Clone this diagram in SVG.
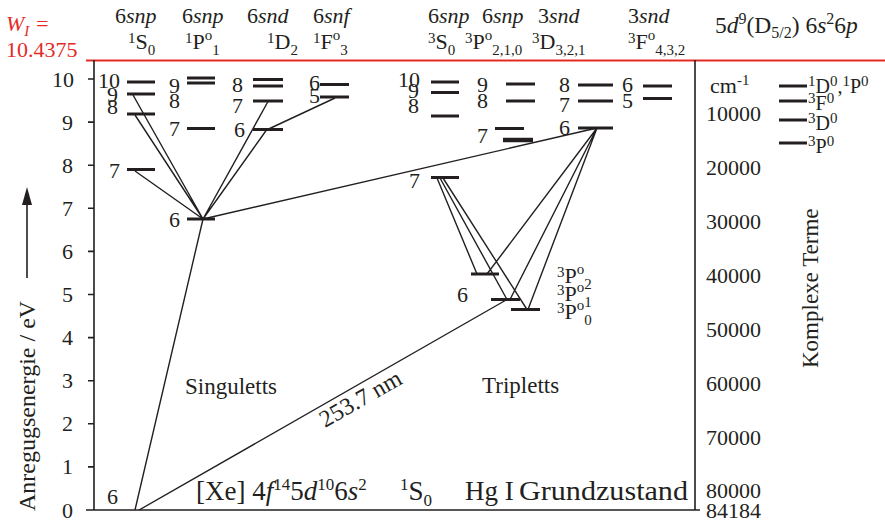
<svg xmlns="http://www.w3.org/2000/svg" width="885" height="522" viewBox="0 0 885 522" font-family="Liberation Serif, Times New Roman, DejaVu Serif, serif">
<style>
.t{font-family:'Liberation Serif','Times New Roman','DejaVu Serif',serif;font-size:22px;fill:#231f20}
.i{font-style:italic}
.s{font-size:15px}
.e{text-anchor:end}
.r{fill:#e32b26}
.lv{stroke:#231f20;stroke-width:3}
.lvb{stroke:#231f20;stroke-width:4.5}
.ln{stroke:#231f20;stroke-width:1.4;fill:none}
.ax{stroke:#231f20;stroke-width:1.6;fill:none}
</style>
<rect width="885" height="522" fill="#fff"/>
<g id="header">
<text class="t r i" x="6" y="31">W<tspan class="s" dy="5">I</tspan><tspan dy="-5"> =</tspan></text>
<text class="t r" x="6" y="57">10.4375</text>
<line x1="86" y1="60.5" x2="885" y2="60.5" stroke="#e32b26" stroke-width="2"/>
<text class="t" x="115" y="23">6<tspan class="i">snp</tspan></text>
<text class="t" x="128" y="49"><tspan class="s" dy="-6">1</tspan><tspan dy="6">S</tspan><tspan class="s" dy="6">0</tspan></text>
<text class="t" x="182" y="23">6<tspan class="i">snp</tspan></text>
<text class="t" x="185" y="49"><tspan class="s" dy="-6">1</tspan><tspan dy="6">P</tspan><tspan class="s" dy="-9">o</tspan><tspan class="s" dy="15">1</tspan></text>
<text class="t" x="247" y="23">6<tspan class="i">snd</tspan></text>
<text class="t" x="267" y="49"><tspan class="s" dy="-6">1</tspan><tspan dy="6">D</tspan><tspan class="s" dy="6">2</tspan></text>
<text class="t" x="313" y="23">6<tspan class="i">snf</tspan></text>
<text class="t" x="313" y="49"><tspan class="s" dy="-6">1</tspan><tspan dy="6">F</tspan><tspan class="s" dy="-9">o</tspan><tspan class="s" dy="15">3</tspan></text>
<text class="t" x="428" y="23">6<tspan class="i">snp</tspan></text>
<text class="t" x="428" y="49"><tspan class="s" dy="-6">3</tspan><tspan dy="6">S</tspan><tspan class="s" dy="6">0</tspan></text>
<text class="t" x="482" y="23">6<tspan class="i">snp</tspan></text>
<text class="t" x="465" y="49"><tspan class="s" dy="-6">3</tspan><tspan dy="6">P</tspan><tspan class="s" dy="-9">o</tspan><tspan class="s" dy="15">2,1,0</tspan></text>
<text class="t" x="538" y="23">3<tspan class="i">snd</tspan></text>
<text class="t" x="532" y="49"><tspan class="s" dy="-6">3</tspan><tspan dy="6">D</tspan><tspan class="s" dy="6">3,2,1</tspan></text>
<text class="t" x="628" y="23">3<tspan class="i">snd</tspan></text>
<text class="t" x="628" y="49"><tspan class="s" dy="-6">3</tspan><tspan dy="6">F</tspan><tspan class="s" dy="-9">o</tspan><tspan class="s" dy="15">4,3,2</tspan></text>
<text class="t" x="715" y="33" style="font-size:23.5px">5<tspan class="i">d</tspan><tspan style="font-size:16px" dy="-9">9</tspan><tspan dy="9">(D</tspan><tspan style="font-size:16px" dy="5">5/2</tspan><tspan dy="-5">) 6</tspan><tspan class="i">s</tspan><tspan style="font-size:16px" dy="-9">2</tspan><tspan dy="9">6</tspan><tspan class="i">p</tspan></text>
</g>
<g id="axes">
<path class="ax" d="M94,60 V510 M86,510 H700 M695,60 V510"/>
<path class="ax" d="M88,466.9 H94 M88,423.8 H94 M88,380.7 H94 M88,337.6 H94 M88,294.5 H94 M88,251.4 H94 M88,208.3 H94 M88,165.2 H94 M88,122.1 H94 M88,79 H94"/>
<text class="t e" x="73" y="517.5">0</text><text class="t e" x="73" y="474.4">1</text><text class="t e" x="73" y="431.3">2</text><text class="t e" x="73" y="388.2">3</text><text class="t e" x="73" y="345.1">4</text><text class="t e" x="73" y="302">5</text><text class="t e" x="73" y="258.9">6</text><text class="t e" x="73" y="215.8">7</text><text class="t e" x="73" y="172.7">8</text><text class="t e" x="73" y="129.6">9</text><text class="t e" x="74" y="86.5">10</text>
<text class="t" transform="translate(35,511) rotate(-90)" style="font-size:24px">Anregugsenergie / eV</text>
<line x1="27" y1="278" x2="27" y2="200" stroke="#231f20" stroke-width="1.6"/>
<polygon points="27,187 22,205 32,205" fill="#231f20"/>
<text class="t" x="710" y="93">cm<tspan class="s" dy="-8">-1</tspan></text>
<text class="t" x="706" y="120.5">10000</text><text class="t" x="706" y="174.5">20000</text><text class="t" x="706" y="228.5">30000</text><text class="t" x="706" y="282.5">40000</text><text class="t" x="706" y="336.5">50000</text><text class="t" x="706" y="390.5">60000</text><text class="t" x="706" y="444.5">70000</text><text class="t" x="706" y="497.5">80000</text><text class="t" x="706" y="518">84184</text>
<text class="t" transform="translate(818,368) rotate(-90)" style="font-size:23px">Komplexe Terme</text>
</g>
<g id="connectors">
<path class="ln" d="M203,219 L135,171 M203,219 L135,115 M203,219 L133,95 M203,219 L268,101.5 M203,219 L266.5,130 M266.5,130 L335,98 M203,219 L597,128 M203,219 L135,510 M139,510 L507,299.5"/>
<path class="ln" d="M437,178 L477,274 M440,178 L507,299.5 M443,178 L527,309.5 M597,128 L487,274 M597,128 L510,299.5 M597,128 L528,309.5"/>
</g>
<g id="s1S0-10"><line class="lv" x1="127" y1="82" x2="155" y2="82"/><text class="t e" x="120" y="88">10</text></g>
<g id="s1S0-9"><line class="lv" x1="127" y1="94" x2="155" y2="94"/><text class="t e" x="118" y="102">9</text></g>
<g id="s1S0-8"><line class="lv" x1="127" y1="114" x2="155" y2="114"/><text class="t e" x="118" y="114">8</text></g>
<g id="s1S0-7"><line class="lv" x1="127" y1="169.5" x2="155" y2="169.5"/><text class="t e" x="120" y="178">7</text></g>
<g id="s1P1-9"><line class="lv" x1="187" y1="78" x2="215" y2="78"/><line class="lv" x1="187" y1="83" x2="215" y2="83"/><text class="t e" x="180" y="93">9</text><text class="t e" x="180" y="108">8</text></g>
<g id="s1P1-7"><line class="lv" x1="187" y1="128.5" x2="215" y2="128.5"/><text class="t e" x="180" y="136">7</text></g>
<g id="s1P1-6"><line class="lv" x1="187" y1="219" x2="215" y2="219"/><text class="t e" x="180" y="227">6</text></g>
<g id="s1D2-8"><line class="lv" x1="253" y1="79.5" x2="283" y2="79.5"/><line class="lv" x1="253" y1="86" x2="283" y2="86"/><text class="t e" x="243" y="92">8</text></g>
<g id="s1D2-7"><line class="lv" x1="253" y1="101" x2="283" y2="101"/><text class="t e" x="243" y="113">7</text></g>
<g id="s1D2-6"><line class="lv" x1="253" y1="129.5" x2="283" y2="129.5"/><text class="t e" x="245" y="137">6</text></g>
<g id="s1F3-6"><line class="lv" x1="320" y1="84.5" x2="349" y2="84.5"/><text class="t e" x="320" y="90">6</text></g>
<g id="s1F3-5"><line class="lv" x1="320" y1="97" x2="349" y2="97"/><text class="t e" x="320" y="103">5</text></g>
<g id="t3S0-10"><line class="lv" x1="431" y1="82" x2="459" y2="82"/><text class="t e" x="420" y="87">10</text></g>
<g id="t3S0-9"><line class="lv" x1="431" y1="92.5" x2="459" y2="92.5"/><text class="t e" x="419" y="98">9</text></g>
<g id="t3S0-8"><line class="lv" x1="431" y1="116" x2="459" y2="116"/><text class="t e" x="419" y="113">8</text></g>
<g id="t3S0-7"><line class="lv" x1="431" y1="177.5" x2="459" y2="177.5"/><text class="t e" x="420" y="188">7</text></g>
<g id="t3P-9"><line class="lv" x1="506" y1="84" x2="535" y2="84"/><text class="t e" x="488" y="92">9</text></g>
<g id="t3P-8"><line class="lv" x1="506" y1="101" x2="535" y2="101"/><text class="t e" x="488" y="108">8</text></g>
<g id="t3P-7"><line class="lv" x1="495" y1="128.5" x2="524" y2="128.5"/><line class="lvb" x1="503" y1="140" x2="533" y2="140"/><text class="t e" x="488" y="143">7</text></g>
<g id="t3P-6"><line class="lv" x1="471" y1="274" x2="499" y2="274"/><line class="lv" x1="491" y1="299.5" x2="520" y2="299.5"/><line class="lv" x1="511" y1="309.5" x2="540" y2="309.5"/><text class="t e" x="468" y="302">6</text>
<text class="t" x="557" y="283"><tspan class="s" dy="-6">3</tspan><tspan dy="6">P</tspan><tspan class="s" dy="-9">o</tspan><tspan class="s" dy="15">2</tspan></text>
<text class="t" x="557" y="301"><tspan class="s" dy="-6">3</tspan><tspan dy="6">P</tspan><tspan class="s" dy="-9">o</tspan><tspan class="s" dy="15">1</tspan></text>
<text class="t" x="557" y="319"><tspan class="s" dy="-6">3</tspan><tspan dy="6">P</tspan><tspan class="s" dy="-9">o</tspan><tspan class="s" dy="15">0</tspan></text></g>
<g id="t3D-8"><line class="lv" x1="578" y1="85" x2="613" y2="85"/><text class="t e" x="570" y="92">8</text></g>
<g id="t3D-7"><line class="lv" x1="578" y1="101" x2="613" y2="101"/><text class="t e" x="570" y="112">7</text></g>
<g id="t3D-6"><line class="lv" x1="578" y1="128" x2="613" y2="128"/><text class="t e" x="570" y="135">6</text></g>
<g id="t3F-6"><line class="lv" x1="643" y1="86" x2="672" y2="86"/><text class="t e" x="633" y="92">6</text></g>
<g id="t3F-5"><line class="lv" x1="643" y1="98.5" x2="672" y2="98.5"/><text class="t e" x="633" y="108">5</text></g>
<g id="complex">
<line class="lv" x1="779" y1="86" x2="807" y2="86"/><line class="lv" x1="779" y1="101" x2="807" y2="101"/><line class="lv" x1="779" y1="120" x2="807" y2="120"/><line class="lv" x1="779" y1="143" x2="807" y2="143"/>
<text class="t" x="808" y="93" style="font-size:20px"><tspan class="s" dy="-7">1</tspan><tspan dy="7">D</tspan><tspan class="s" dy="-7">0</tspan><tspan dy="7">,</tspan><tspan class="s" dy="-7">1</tspan><tspan dy="7">P</tspan><tspan class="s" dy="-7">0</tspan></text>
<text class="t" x="808" y="110" style="font-size:20px"><tspan class="s" dy="-7">3</tspan><tspan dy="7">F</tspan><tspan class="s" dy="-7">0</tspan></text>
<text class="t" x="808" y="130" style="font-size:20px"><tspan class="s" dy="-7">3</tspan><tspan dy="7">D</tspan><tspan class="s" dy="-7">0</tspan></text>
<text class="t" x="808" y="153" style="font-size:20px"><tspan class="s" dy="-7">3</tspan><tspan dy="7">P</tspan><tspan class="s" dy="-7">0</tspan></text>
</g>
<g id="ground"><text class="t" x="107" y="504">6</text></g>
<g id="labels">
<text class="t" x="185" y="394" style="font-size:23px">Singuletts</text>
<text class="t" x="482" y="393" style="font-size:23px">Tripletts</text>
<text class="t" transform="translate(325,428) rotate(-29.7)" style="font-size:24px">253.7 nm</text>
<text class="t" x="196" y="500" style="font-size:27px">[Xe] 4<tspan class="i">f</tspan><tspan style="font-size:17px" dy="-10">14</tspan><tspan dy="10">5</tspan><tspan class="i">d</tspan><tspan style="font-size:17px" dy="-10">10</tspan><tspan dy="10">6</tspan><tspan class="i">s</tspan><tspan style="font-size:17px" dy="-10">2</tspan></text>
<text class="t" x="400" y="500" style="font-size:27px"><tspan style="font-size:17px" dy="-10">1</tspan><tspan dy="10">S</tspan><tspan style="font-size:17px" dy="6">0</tspan></text>
<text class="t" x="465" y="500" style="font-size:27px">Hg I</text>
<text class="t" x="519" y="500" style="font-size:27px" textLength="169" lengthAdjust="spacingAndGlyphs">Grundzustand</text>
</g>
</svg>
